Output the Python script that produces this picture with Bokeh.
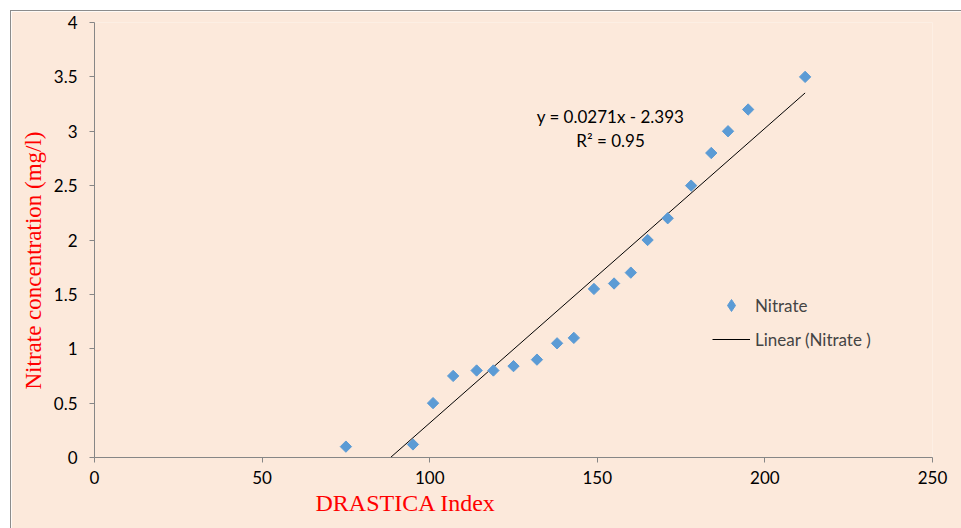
import numpy as np
from bokeh.plotting import figure
from bokeh.models import Label, Legend, LegendItem, FixedTicker, Title
from bokeh.embed import file_html
from bokeh.resources import INLINE

# ---- data ----
drastica = [75, 95, 101, 107, 114, 119, 125, 132, 138, 143,
            149, 155, 160, 165, 171, 178, 184, 189, 195, 212]
nitrate = [0.10, 0.12, 0.50, 0.75, 0.80, 0.80, 0.84, 0.90, 1.05, 1.10,
           1.55, 1.60, 1.70, 2.00, 2.20, 2.50, 2.80, 3.00, 3.20, 3.50]
slope = 0.0271
intercept = -2.393
r_squared = 0.95
x_ticks = [0, 50, 100, 150, 200, 250]
y_ticks = [0, 0.5, 1, 1.5, 2, 2.5, 3, 3.5, 4]
y_tick_labels = ["0", "0.5", "1", "1.5", "2", "2.5", "3", "3.5", "4"]

BG = "#FCE9DB"
AXIS = "#868686"
MARK = "#5B9BD5"
TICK_FONT = "Lato"
SERIF = "Liberation Serif"

p = figure(frame_width=838, frame_height=435,
           x_range=(0, 250), y_range=(0, 4),
           min_border_left=83, min_border_right=29,
           min_border_top=11, min_border_bottom=71,
           output_backend="svg", toolbar_location=None)
p.margin = (10, 0, 0, 10)
p.styles = {"border-top": "1px solid #8c8c8c", "border-left": "1px solid #8c8c8c"}
p.background_fill_color = BG
p.border_fill_color = BG
p.outline_line_color = None
p.xgrid.visible = False
p.ygrid.visible = False

for ax in (p.xaxis[0], p.yaxis[0]):
    ax.axis_line_color = AXIS
    ax.major_tick_line_color = AXIS
    ax.minor_tick_line_color = None
    ax.major_tick_out = 5
    ax.major_tick_in = 0
    ax.major_label_text_font = TICK_FONT
    ax.major_label_text_font_size = "17px"
    ax.major_label_text_color = "black"

p.xaxis[0].ticker = FixedTicker(ticks=x_ticks)
p.xaxis[0].major_label_standoff = 8
p.yaxis[0].ticker = FixedTicker(ticks=y_ticks)
p.yaxis[0].major_label_overrides = {t: s for t, s in zip(y_ticks, y_tick_labels)}
p.yaxis[0].major_label_standoff = 12

# trendline
tx = np.array([min(drastica), max(drastica)], dtype=float)
ty = slope * tx + intercept
r_line = p.line(tx, ty, line_color="black", line_width=1)

r_pts = p.scatter(drastica, nitrate, marker="square", angle=np.pi / 4, size=8,
                  fill_color=MARK, line_color=MARK)
# hidden twin used only for the legend key (diamond shape)
r_key = p.scatter(drastica, nitrate, marker="diamond", size=12,
                  fill_color=MARK, line_color=MARK, visible=False)

legend = Legend(items=[LegendItem(label="Nitrate", renderers=[r_key]),
                       LegendItem(label="Linear (Nitrate )", renderers=[r_line])],
                location=(618, 103), glyph_width=38, glyph_height=30,
                label_height=30, spacing=4, padding=0, margin=0,
                border_line_color=None, background_fill_alpha=0,
                label_text_font=TICK_FONT, label_text_font_size="17px",
                label_standoff=5)
p.add_layout(legend)

eq1 = "y = %.4fx - %.3f" % (slope, -intercept)
eq2 = "R² = %.2f" % r_squared
p.add_layout(Label(x=516, y=341, x_units="screen", y_units="screen", text=eq1,
                   text_align="center", text_baseline="middle",
                   text_font=TICK_FONT, text_font_size="17px", text_color="black"))
p.add_layout(Label(x=516, y=317, x_units="screen", y_units="screen", text=eq2,
                   text_align="center", text_baseline="middle",
                   text_font=TICK_FONT, text_font_size="17px", text_color="black"))

# axis titles
p.add_layout(Title(text="DRASTICA Index", align="left", offset=221, standoff=3,
                   text_font=SERIF, text_font_size="24px", text_color="red",
                   text_font_style="normal"), "below")
p.add_layout(Title(text="Nitrate concentration (mg/l)", align="left", offset=68,
                   standoff=9, text_font=SERIF, text_font_size="23px",
                   text_color="red", text_font_style="normal"), "left")

open("out.html", "w").write(file_html(p, INLINE))
